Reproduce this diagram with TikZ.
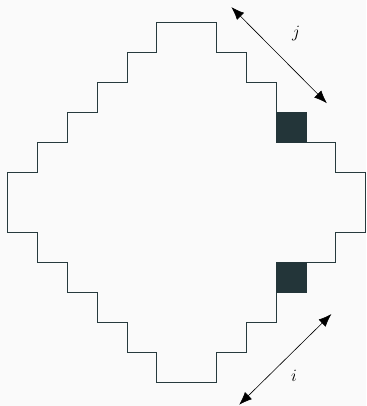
\documentclass[tikz,border=0pt]{standalone}
\usetikzlibrary{arrows.meta}
\definecolor{ink}{HTML}{263A3D}
\definecolor{boxfill}{HTML}{233539}
\definecolor{paper}{HTML}{FAFAFA}
\tikzset{
  outline/.style={draw=ink, line width=0.8pt, line join=miter},
  marked/.style={fill=boxfill, draw=boxfill, line width=0.6pt},
  dimarrow/.style={draw=black, line width=0.6pt, {Latex[length=13pt,width=10pt]}-{Latex[length=13pt,width=10pt]}},
  dimlabel/.style={inner sep=1pt, font=\fontsize{18}{20}\selectfont}
}
\begin{document}
\begin{tikzpicture}[x=29.85pt,y=29.94pt]
\path[fill=paper] (-0.2513,-0.8016) rectangle (12.0097,12.758);
\useasboundingbox (-0.2513,-0.8016) rectangle (12.0097,12.758);
% staircase outline
\draw[outline]
  (0,5) -- (0,7) -- (1,7) -- (1,8) -- (2,8) -- (2,9) -- (3,9) -- (3,10)
  -- (4,10) -- (4,11) -- (5,11) -- (5,12) -- (7,12) -- (7,11) -- (8,11)
  -- (8,10) -- (9,10) -- (9,9) -- (9,8) -- (10,8) -- (11,8) -- (11,7)
  -- (12,7) -- (12,5) -- (11,5) -- (11,4) -- (10,4) -- (9,4) -- (9,3)
  -- (9,2) -- (8,2) -- (8,1) -- (7,1) -- (7,0) -- (5,0) -- (5,1)
  -- (4,1) -- (4,2) -- (3,2) -- (3,3) -- (2,3) -- (2,4) -- (1,4)
  -- (1,5) -- cycle;
% marked squares
\path[marked] (9,8) rectangle (10,9);
\path[marked] (9,3) rectangle (10,4);
% dimension arrows
\coordinate (ja) at (7.50,12.52);
\coordinate (jb) at (10.70,9.31);
\coordinate (ia) at (10.85,2.27);
\coordinate (ib) at (7.76,-0.76);
\draw[dimarrow] (ja) -- (jb);
\draw[dimarrow] (ia) -- (ib);
\node[dimlabel] (jl) at (9.67,11.65) {$j$};
\node[dimlabel] (il) at (9.60,0.19) {$i$};
\end{tikzpicture}
\end{document}
